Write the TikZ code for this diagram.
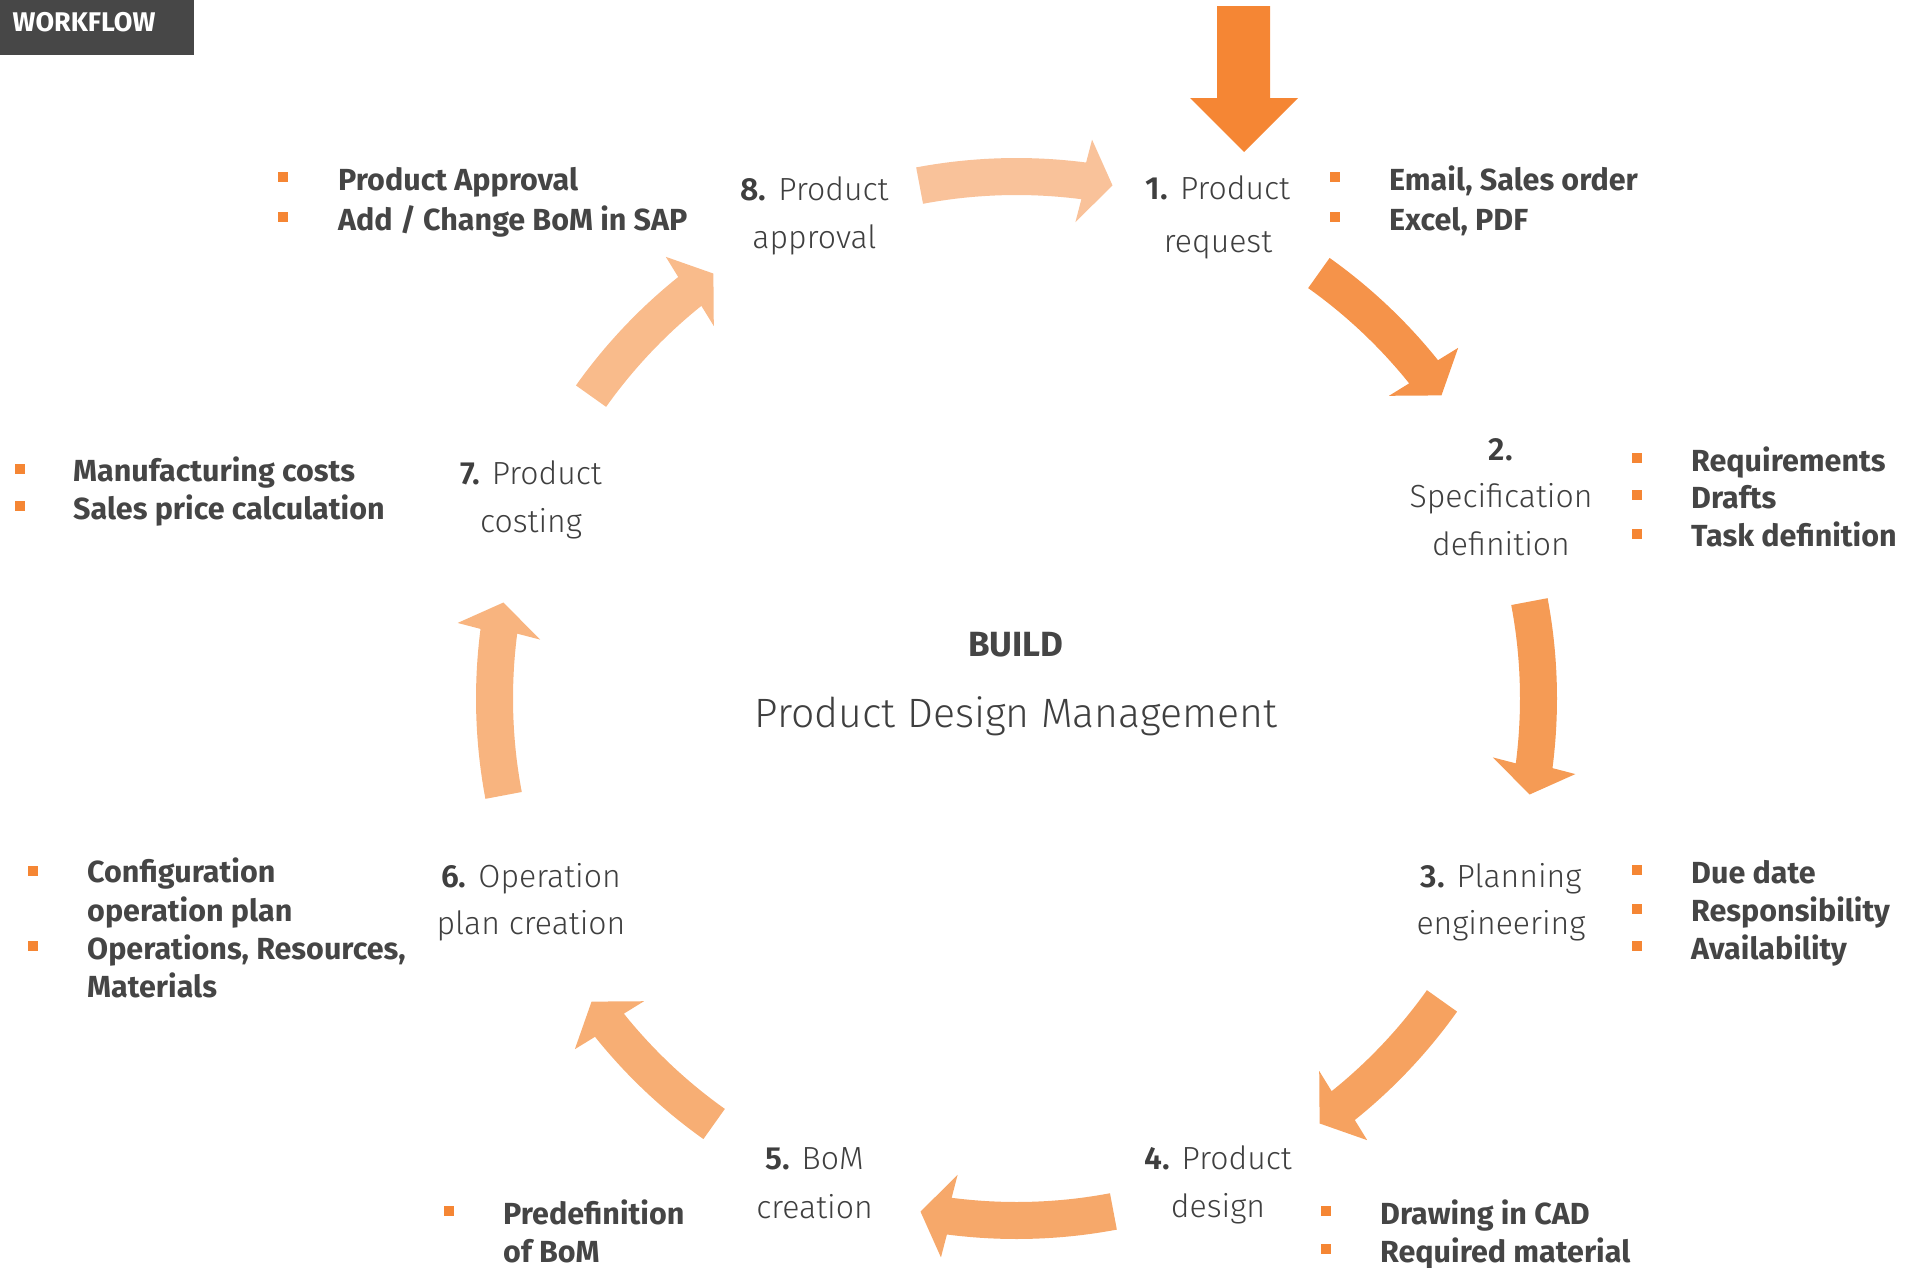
\documentclass[tikz,border=0pt]{standalone}
\usepackage{fontspec}
\setmainfont{Fira Sans}
\newfontfamily\lightfont{Fira Sans Light}
\definecolor{txt}{HTML}{454545}
\definecolor{steptext}{HTML}{3F3F3F}
\definecolor{boxgray}{HTML}{474747}
\definecolor{bulorange}{HTML}{F58634}
\definecolor{toporange}{HTML}{F58634}
\definecolor{cA}{HTML}{F9C29A}
\definecolor{cB}{HTML}{F5934A}
\definecolor{cC}{HTML}{F59B55}
\definecolor{cD}{HTML}{F6A260}
\definecolor{cE}{HTML}{F6A86A}
\definecolor{cF}{HTML}{F7AE74}
\definecolor{cG}{HTML}{F8B47F}
\definecolor{cH}{HTML}{F9BB8B}
% cycle arrow: #1 centre angle, #2 tail offset, #3 notch offset, #4 tip offset, #5 colour
\newcommand{\cycarrow}[5]{%
  \pgfmathsetmacro\cyTail{#1+#2}%
  \pgfmathsetmacro\cyNotch{#1+#3}%
  \pgfmathsetmacro\cyOut{#1+#3+0.3}%
  \pgfmathsetmacro\cyIn{#1+#3-0.35}%
  \pgfmathsetmacro\cyTip{#1+#4}%
  \fill[#5] plot[domain=\cyTail:\cyNotch,samples=40] (\x:540.5)
    -- (\cyOut:564) -- (\cyTip:522) -- (\cyIn:480)
    -- plot[domain=\cyNotch:\cyTail,samples=40] (\x:503.5) -- cycle;}
\begin{document}
\begin{tikzpicture}[x=1pt,y=-1pt,
  steptxt/.style={font=\lightfont\fontsize{32}{40}\selectfont, text=steptext, anchor=base, inner sep=0pt},
  bultxt/.style={font=\bfseries\fontsize{30.5}{36}\selectfont, text=txt, anchor=base west, inner sep=0pt},
  bulsq/.style={fill=bulorange, minimum size=10pt, inner sep=0pt}]
\useasboundingbox (0,0) rectangle (1906,1267);

% title tab
\fill[boxgray] (0,0) rectangle (194,55);
\node[font=\bfseries\fontsize{27}{30}\selectfont, text=white, anchor=base west, inner sep=0pt] (wf) at (12.5,31.7) {WORKFLOW};

% incoming arrow
\fill[toporange] (1217,6) -- (1270,6) -- (1270,98) -- (1298,98) -- (1244,152) -- (1190,98) -- (1217,98) -- cycle;

% cycle arrows
\begin{scope}[shift={(1016.5,698.5)}]
  \cycarrow{-90}{-10.7}{7.4}{10.6}{cA}
  \cycarrow{-45}{-9.6}{6.25}{9.5}{cB}
  \cycarrow{0}{-10.7}{7.4}{10.6}{cC}
  \cycarrow{45}{-9.6}{6.25}{9.5}{cD}
  \cycarrow{90}{-10.7}{7.4}{10.6}{cE}
  \cycarrow{135}{-9.6}{6.25}{9.5}{cF}
  \cycarrow{180}{-10.7}{7.4}{10.6}{cG}
  \cycarrow{225}{-9.6}{6.25}{9.5}{cH}
\end{scope}

% centre
\node[font=\bfseries\fontsize{35}{40}\selectfont, text=txt, anchor=base, inner sep=0pt] (build) at (1016,656) {BUILD};
\node[font=\lightfont\fontsize{41}{48}\selectfont, text=steptext, anchor=base, inner sep=0pt] (pdm) at (1016,727) {Product Design Management};

% step labels
\node[steptxt] (s1a) at (1218,199) {\textbf{1.} Product};
\node[steptxt] (s1b) at (1218,252) {request};
\node[steptxt] (s2a) at (1501,460) {\textbf{2.}};
\node[steptxt] (s2b) at (1501,507.5) {Specification};
\node[steptxt] (s2c) at (1501,555) {definition};
\node[steptxt] (s3a) at (1501,887) {\textbf{3.} Planning};
\node[steptxt] (s3b) at (1501,934) {engineering};
\node[steptxt] (s4a) at (1218,1169) {\textbf{4.} Product};
\node[steptxt] (s4b) at (1218,1217) {design};
\node[steptxt] (s5a) at (814.5,1169) {\textbf{5.} BoM};
\node[steptxt] (s5b) at (814.5,1218) {creation};
\node[steptxt] (s6a) at (531,887) {\textbf{6.} Operation};
\node[steptxt] (s6b) at (531,934) {plan creation};
\node[steptxt] (s7a) at (531,484) {\textbf{7.} Product};
\node[steptxt] (s7b) at (531,532) {costing};
\node[steptxt] (s8a) at (814.5,200) {\textbf{8.} Product};
\node[steptxt] (s8b) at (814.5,248) {approval};

% bullets 1
\node[bulsq] (q1a) at (1335,177.3) {};
\node[bultxt] (t1a) at (1389,190) {Email, Sales order};
\node[bulsq] (q1b) at (1335,217.3) {};
\node[bultxt] (t1b) at (1389,230) {Excel, PDF};
% bullets 2
\node[bulsq] (q2a) at (1637,458.3) {};
\node[bultxt] (t2a) at (1691,471) {Requirements};
\node[bulsq] (q2b) at (1637,495.3) {};
\node[bultxt] (t2b) at (1691,508) {Drafts};
\node[bulsq] (q2c) at (1637,534) {};
\node[bultxt] (t2c) at (1691,546.7) {Task definition};
% bullets 3
\node[bulsq] (q3a) at (1637,870.3) {};
\node[bultxt] (t3a) at (1691,883) {Due date};
\node[bulsq] (q3b) at (1637,908.8) {};
\node[bultxt] (t3b) at (1691,921.5) {Responsibility};
\node[bulsq] (q3c) at (1637,946.3) {};
\node[bultxt] (t3c) at (1691,959) {Availability};
% bullets 4
\node[bulsq] (q4a) at (1326,1211.3) {};
\node[bultxt] (t4a) at (1380,1224) {Drawing in CAD};
\node[bulsq] (q4b) at (1326,1249.3) {};
\node[bultxt] (t4b) at (1380,1262) {Required material};
% bullets 5
\node[bulsq] (q5a) at (448.5,1211.3) {};
\node[bultxt] (t5a) at (503,1224) {Predefinition};
\node[bultxt] (t5b) at (503,1262) {of BoM};
% bullets 6
\node[bulsq] (q6a) at (33,870.5) {};
\node[bultxt] (t6a) at (87,882.5) {Configuration};
\node[bultxt] (t6b) at (87,921) {operation plan};
\node[bulsq] (q6b) at (33,946.3) {};
\node[bultxt] (t6c) at (87,959) {Operations, Resources,};
\node[bultxt] (t6d) at (87,997) {Materials};
% bullets 7
\node[bulsq] (q7a) at (19.5,468.8) {};
\node[bultxt] (t7a) at (73,481.5) {Manufacturing costs};
\node[bulsq] (q7b) at (19.5,506.3) {};
\node[bultxt] (t7b) at (73,519) {Sales price calculation};
% bullets 8
\node[bulsq] (q8a) at (283,177.3) {};
\node[bultxt] (t8a) at (338,190) {Product Approval};
\node[bulsq] (q8b) at (283,217.3) {};
\node[bultxt] (t8b) at (338,230) {Add / Change BoM in SAP};
\end{tikzpicture}
\end{document}
